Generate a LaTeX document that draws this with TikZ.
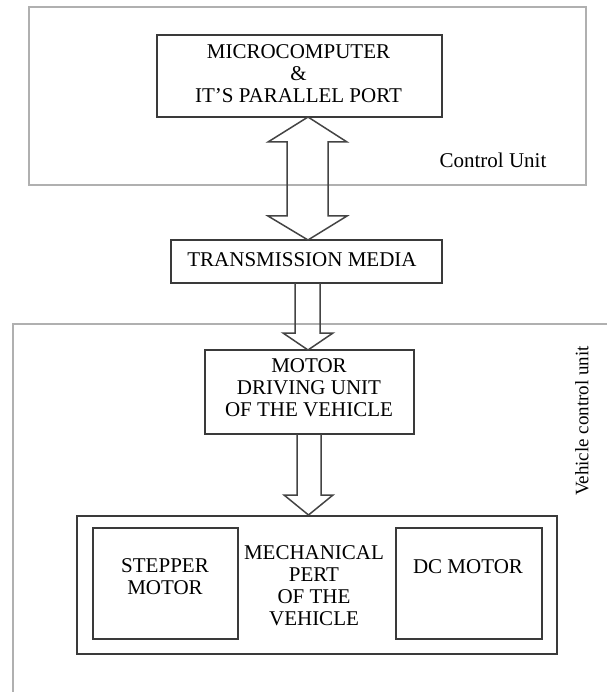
\documentclass[tikz,border=0pt]{standalone}
\usepackage{fontspec}
\setmainfont{Liberation Serif}
\definecolor{boxc}{HTML}{3A3A3A}
\definecolor{outc}{HTML}{B0B0B0}
\definecolor{arrc}{HTML}{444444}
\begin{document}
\begin{tikzpicture}[x=1pt,y=-1pt,
  box/.style={draw=boxc, line width=1.6pt, inner sep=0pt},
  outer/.style={draw=outc, line width=2pt},
  blk/.style={draw=arrc, line width=1.5pt, line join=miter},
  txt/.style={font=\fontsize{21}{22}\selectfont, align=center, inner sep=0pt}]
\useasboundingbox (0,0) rectangle (607,692);
% outer frames
\node[outer, inner sep=0pt, minimum width=557pt, minimum height=178pt] (ctrl) at (307.5,96) {};
\draw[outer] (607,324) -- (13,324) -- (13,692);
% boxes
\node[box, minimum width=285pt, minimum height=82pt] (micro) at (299.5,76) {};
\node[box, minimum width=271pt, minimum height=43pt] (trans) at (306.5,261.5) {};
\node[box, minimum width=209pt, minimum height=84pt] (motor) at (309.5,392) {};
\node[box, minimum width=480pt, minimum height=138pt] (mech) at (317,585) {};
\node[box, minimum width=145pt, minimum height=111pt] (step) at (165.5,583.5) {};
\node[box, minimum width=146pt, minimum height=111pt] (dc) at (469,583.5) {};
% texts
\node[txt] (tmicro) at (298.5,74) {MICROCOMPUTER\\\&\\IT'S PARALLEL PORT};
\node[txt] (ttrans) at (302,260) {TRANSMISSION MEDIA};
\node[txt] (tmotor) at (309,388) {MOTOR\\DRIVING UNIT\\OF THE VEHICLE};
\node[txt] (tmech) at (314,586) {MECHANICAL\\PERT\\OF THE\\VEHICLE};
\node[txt] (tstep) at (165,577) {STEPPER\\MOTOR};
\node[txt] (tdc) at (468,567) {DC MOTOR};
\node[txt] (tctrl) at (493,160) {Control Unit};
\node[txt, font=\fontsize{19}{22}\selectfont, rotate=90] (tveh) at (582,421) {Vehicle control unit};
% block arrows
\draw[blk] (308,117) -- (347,142) -- (328,142) -- (328,216) -- (347,216) -- (308,240)
  -- (268,216) -- (287,216) -- (287,142) -- (268,142) -- cycle;
\draw[blk] (295,283) -- (295,333) -- (283,333) -- (308,350) -- (333,333) -- (320,333) -- (320,283);
\draw[blk] (297,434) -- (297,495) -- (284,495) -- (308.5,515) -- (333,495) -- (321,495) -- (321,434);
\end{tikzpicture}
\end{document}
